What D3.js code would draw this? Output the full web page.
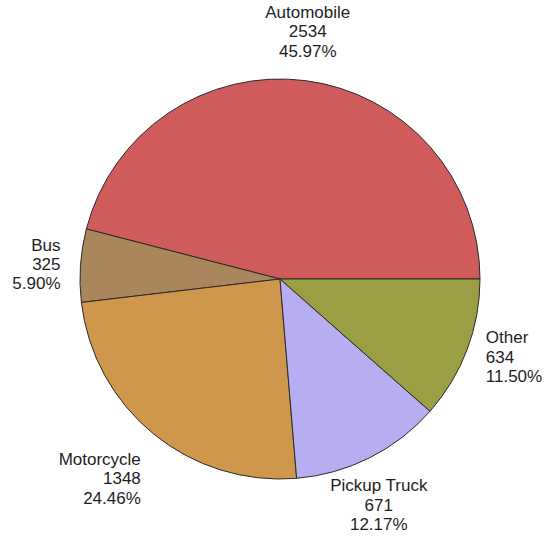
<!DOCTYPE html>
<html>
<head>
<meta charset="utf-8">
<script src="https://cdn.jsdelivr.net/npm/d3@7"></script>
<style>
  html, body { margin: 0; padding: 0; background: #fff; }
  svg { display: block; }
  text { font-family: "Liberation Sans", Arial, sans-serif; font-size: 17px; fill: #1e1e1e; }
</style>
</head>
<body>
<svg id="chart" width="544" height="538"></svg>
<script>
// Vehicle type counts
const categories = ["Automobile", "Bus", "Motorcycle", "Pickup Truck", "Other"];
const counts = [2534, 325, 1348, 671, 634];
const percentLabels = ["45.97%", "5.90%", "24.46%", "12.17%", "11.50%"];
const colors = ["#D05B5B", "#A9865B", "#CF974B", "#B7AEF1", "#9B9E42"];

const width = 544, height = 538;
const cx = 280, cy = 279, radius = 200;
const labelRadius = 220, lineHeight = 19.3;

const data = categories.map((c, i) => ({ name: c, value: counts[i], pct: percentLabels[i], color: colors[i] }));

const svg = d3.select("#chart");
const g = svg.append("g").attr("transform", `translate(${cx},${cy})`);

// Slices run counter-clockwise starting at 3 o'clock
const pie = d3.pie()
  .value(d => d.value)
  .sort(null)
  .startAngle(Math.PI / 2)
  .endAngle(Math.PI / 2 - 2 * Math.PI);

const arc = d3.arc().innerRadius(0).outerRadius(radius);
const arcs = pie(data);

g.selectAll("path.slice")
  .data(arcs)
  .join("path")
  .attr("class", "slice")
  .attr("d", arc)
  .attr("fill", d => d.data.color)
  .attr("stroke", "#2a2a2a")
  .attr("stroke-width", 1)
  .attr("stroke-linejoin", "round");

// Three-line labels placed just outside each slice
arcs.forEach(a => {
  const mid = (a.startAngle + a.endAngle) / 2; // d3 angle: 0 = up, clockwise
  const dx = Math.sin(mid), dy = -Math.cos(mid);
  const x = labelRadius * dx, y = labelRadius * dy;

  const anchor = Math.abs(dx) < 0.5 ? "middle" : (dx > 0 ? "start" : "end");
  let firstBase;
  if (dy < -0.7) firstBase = y - 4 - 2 * lineHeight;       // above the pie
  else if (dy > 0.7) firstBase = y + 15.8;                 // below the pie
  else firstBase = y + 5.8 - lineHeight;                   // beside the pie

  const t = g.append("text").attr("text-anchor", anchor);
  [a.data.name, String(a.data.value), a.data.pct].forEach((s, i) => {
    t.append("tspan").attr("x", x).attr("y", firstBase + i * lineHeight).text(s);
  });
});
</script>
</body>
</html>
